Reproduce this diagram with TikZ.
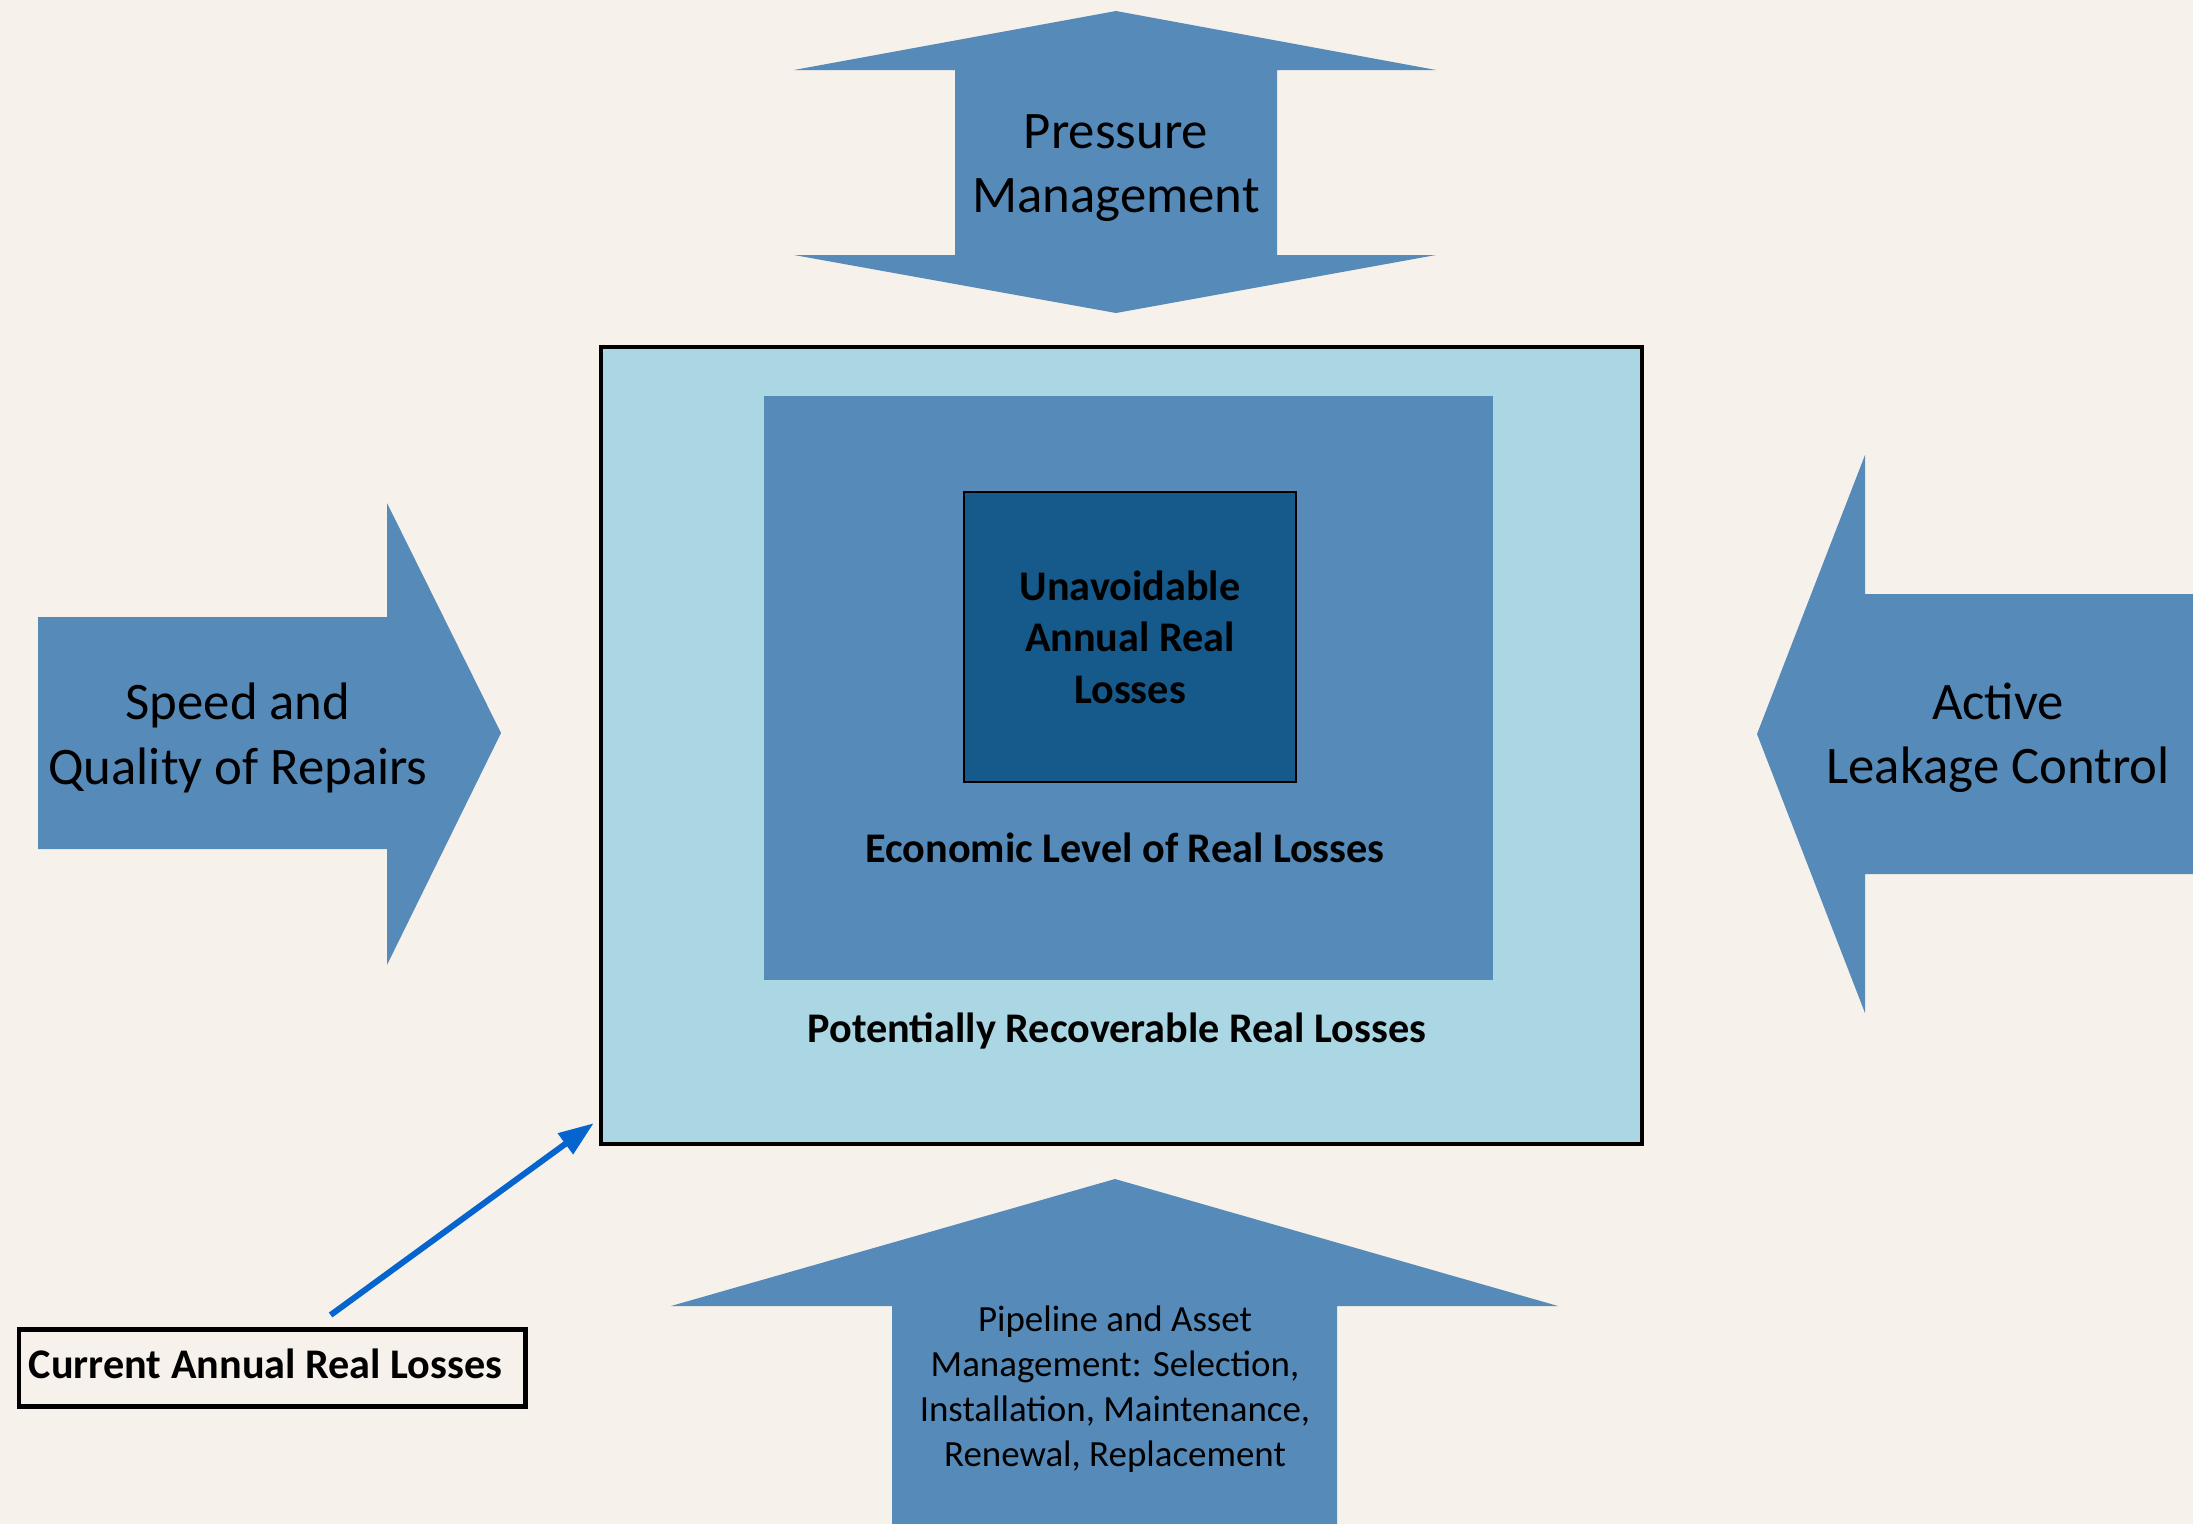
\documentclass[tikz,border=0pt]{standalone}
\usepackage{fontspec}
\setmainfont{Carlito}
\usetikzlibrary{arrows.meta}
\definecolor{paper}{RGB}{247,241,235}
\definecolor{flowblue}{RGB}{85,138,185}
\definecolor{paleblue}{RGB}{171,214,227}
\definecolor{deepblue}{RGB}{22,90,140}
\definecolor{pointblue}{RGB}{5,100,205}
\newcommand{\wide}{2193}
\newcommand{\high}{1524}

\begin{document}
\begin{tikzpicture}[
      x=0.01cm, y=-0.01cm, % one unit = one pixel, y runs downwards
      flow/.style={fill=flowblue},
      zone/.style={inner sep=0pt},
      arrowtext/.style={align=center, font=\fontsize{15}{18.3}\selectfont},
      boxtext/.style={align=center, font=\fontsize{12}{14.6}\selectfont\bfseries},
      pipetext/.style={align=center, font=\fontsize{10.5}{12.8}\selectfont},
      pointer/.style={pointblue, line width=1.7pt, -{Triangle[length=10pt,width=7pt]}}
    ]
    \useasboundingbox (0,0) rectangle (\wide,\high);
    \fill[paper] (0,0) rectangle (\wide,\high);
    % Pressure management, double arrow on top
    \fill[flow] (1116,11) -- (1436,70) -- (1277,70) -- (1277,255) -- (1436,255) -- (1116,313)
      -- (794,255) -- (955,255) -- (955,70) -- (794,70) -- cycle;
    \node[arrowtext] (pressure) at (1116,168) {Pressure\\Management};
    % Speed and quality of repairs, from the left
    \fill[flow] (38,617) -- (387,617) -- (387,503) -- (501,733) -- (387,965) -- (387,849) -- (38,849) -- cycle;
    \node[arrowtext] (repairs) at (238,738) {Speed and\\Quality of Repairs};
    % Active leakage control, from the right
    \fill[flow] (1757,734) -- (1865,455) -- (1865,594) -- (\wide,594) -- (\wide,874) -- (1865,874) -- (1865,1013) -- cycle;
    \node[arrowtext] (leakage) at (1998,738) {Active\\Leakage Control};
    % Pipeline and asset management, from below
    \fill[flow] (1115,1179) -- (1558,1306) -- (1337,1306) -- (1337,\high) -- (892,\high) -- (892,1306) -- (671,1306) -- cycle;
    \node[pipetext] (assets) at (1115,1389) {Pipeline and Asset\\Management: Selection,\\Installation, Maintenance,\\Renewal, Replacement};
    % The nested loss levels
    \node[zone, draw, line width=1.1pt, fill=paleblue, minimum width=10.41cm, minimum height=7.97cm] (recoverable) at (1121.5,745.5) {};
    \node[zone, fill=flowblue, minimum width=7.28cm, minimum height=5.84cm] (economic) at (1128.5,688) {};
    \node[zone, draw, line width=0.5pt, fill=deepblue, boxtext, minimum width=3.32cm, minimum height=2.9cm] (unavoidable) at (1130,637) {Unavoidable\\Annual Real\\Losses};
    \node[boxtext] (economiclabel) at (1125,848) {Economic Level of Real Losses};
    \node[boxtext] (recoverablelabel) at (1117,1031) {Potentially Recoverable Real Losses};
    % Current losses and its pointer
    \node[draw, line width=1.4pt, boxtext, inner xsep=2.85pt, text depth=0.08cm, minimum height=0.77cm, anchor=north west] (current) at (16.5,1327) {\makebox[4.86cm][l]{Current Annual Real Losses}};
    \draw[pointer] ([shift={(58.5,-12)}]current.north) -- ([shift={(-5,-23)}]recoverable.south west);
\end{tikzpicture}
\end{document}
